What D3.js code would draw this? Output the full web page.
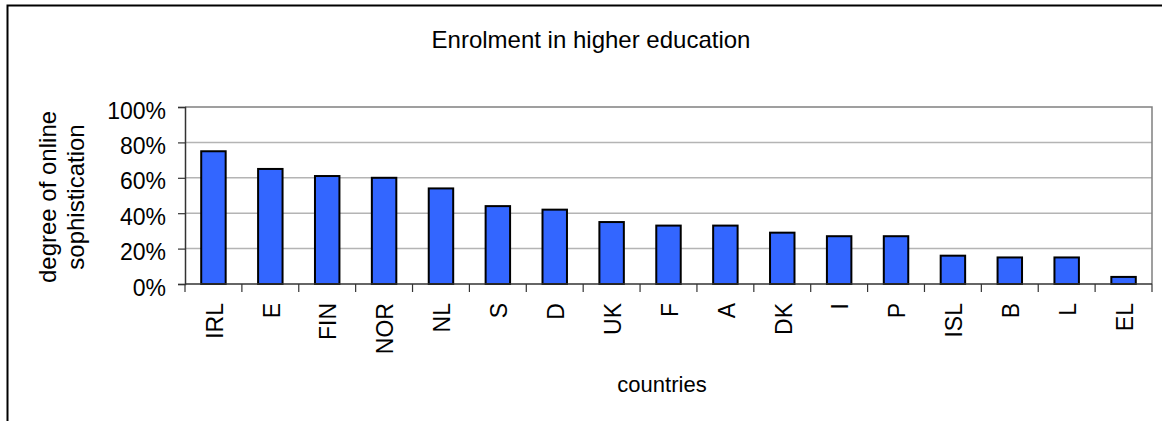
<!DOCTYPE html>
<html>
<head>
<meta charset="utf-8">
<script src="https://cdn.jsdelivr.net/npm/d3@7"></script>
<style>
  html, body { margin: 0; padding: 0; background: #fff; }
  svg { display: block; font-family: "Liberation Sans", Arial, sans-serif; }
</style>
</head>
<body>
<svg id="chart" width="1171" height="421"></svg>
<script>
// Enrolment in higher education: online sophistication by country
const countries = ["IRL", "E", "FIN", "NOR", "NL", "S", "D", "UK", "F", "A", "DK", "I", "P", "ISL", "B", "L", "EL"];
const sophistication = [75, 65, 61, 60, 54, 44, 42, 35, 33, 33, 29, 27, 27, 16, 15, 15, 4];
const yTicks = [0, 20, 40, 60, 80, 100];

const svg = d3.select("#chart");
const W = 1171, H = 421;
const plot = { left: 185, right: 1152, top: 107, bottom: 284 };

// Outer frame (top and left edges only)
svg.append("path")
  .attr("d", `M7.5,${H} V5.5 H1162`)
  .attr("fill", "none")
  .attr("stroke", "#000")
  .attr("stroke-width", 2);

const x = d3.scaleBand()
  .domain(countries)
  .range([plot.left, plot.right])
  .paddingInner(0.57)
  .paddingOuter(0.285);

const y = d3.scaleLinear()
  .domain([0, 100])
  .range([plot.bottom, plot.top]);

// Gridlines
svg.append("g")
  .selectAll("line")
  .data(yTicks.filter(t => t > 0 && t < 100))
  .join("line")
  .attr("x1", plot.left).attr("x2", plot.right)
  .attr("y1", d => y(d)).attr("y2", d => y(d))
  .attr("stroke", "#b4b4b4")
  .attr("stroke-width", 1.5);

// Plot frame top and right
svg.append("path")
  .attr("d", `M${plot.left},${y(100)} H${plot.right} V${plot.bottom}`)
  .attr("fill", "none")
  .attr("stroke", "#808080")
  .attr("stroke-width", 1.5);

// Bars
svg.append("g")
  .selectAll("rect")
  .data(countries.map((c, i) => ({ c, v: sophistication[i] })))
  .join("rect")
  .attr("x", d => x(d.c))
  .attr("y", d => y(d.v))
  .attr("width", x.bandwidth())
  .attr("height", d => y(0) - y(d.v))
  .attr("fill", "#3366ff")
  .attr("stroke", "#000")
  .attr("stroke-width", 2);

// Y axis
const yAxis = svg.append("g")
  .attr("transform", `translate(${plot.left},0)`)
  .call(d3.axisLeft(y).tickValues(yTicks).tickFormat(d => d + "%").tickSize(7).tickPadding(12));
yAxis.select(".domain").attr("stroke", "#333").attr("stroke-width", 1.5);
yAxis.selectAll(".tick line").attr("stroke", "#333").attr("stroke-width", 1.2);
yAxis.selectAll(".tick text")
  .attr("font-size", 23)
  .attr("font-family", "Liberation Sans, Arial, sans-serif")
  .attr("fill", "#000")
  .attr("dy", "0.48em");

// X axis: ticks at category boundaries
svg.append("line")
  .attr("x1", plot.left).attr("x2", plot.right)
  .attr("y1", plot.bottom).attr("y2", plot.bottom)
  .attr("stroke", "#333").attr("stroke-width", 1.5);

const bounds = d3.range(countries.length + 1).map(i => plot.left + i * (plot.right - plot.left) / countries.length);
svg.append("g")
  .selectAll("line")
  .data(bounds)
  .join("line")
  .attr("x1", d => d).attr("x2", d => d)
  .attr("y1", plot.bottom).attr("y2", plot.bottom + 8)
  .attr("stroke", "#333")
  .attr("stroke-width", 1.2);

// Category labels, rotated
svg.append("g")
  .selectAll("text")
  .data(countries)
  .join("text")
  .attr("transform", d => `translate(${x(d) + x.bandwidth() / 2 + 1},303) rotate(-90)`)
  .attr("text-anchor", "end")
  .attr("dy", "0.36em")
  .attr("font-size", 23)
  .attr("fill", "#000")
  .text(d => d);

// Title
svg.append("text")
  .attr("x", 591).attr("y", 48)
  .attr("text-anchor", "middle")
  .attr("font-size", 24)
  .attr("fill", "#000")
  .text("Enrolment in higher education");

// X axis title
svg.append("text")
  .attr("x", 662).attr("y", 392)
  .attr("text-anchor", "middle")
  .attr("font-size", 22)
  .attr("fill", "#000")
  .text("countries");

// Y axis title (two lines)
const yTitle = svg.append("text")
  .attr("transform", "translate(0,197) rotate(-90)")
  .attr("text-anchor", "middle")
  .attr("font-size", 24)
  .attr("fill", "#000");
yTitle.append("tspan").attr("x", 0).attr("y", 56).text("degree of online");
yTitle.append("tspan").attr("x", 0).attr("y", 84).text("sophistication");
</script>
</body>
</html>
